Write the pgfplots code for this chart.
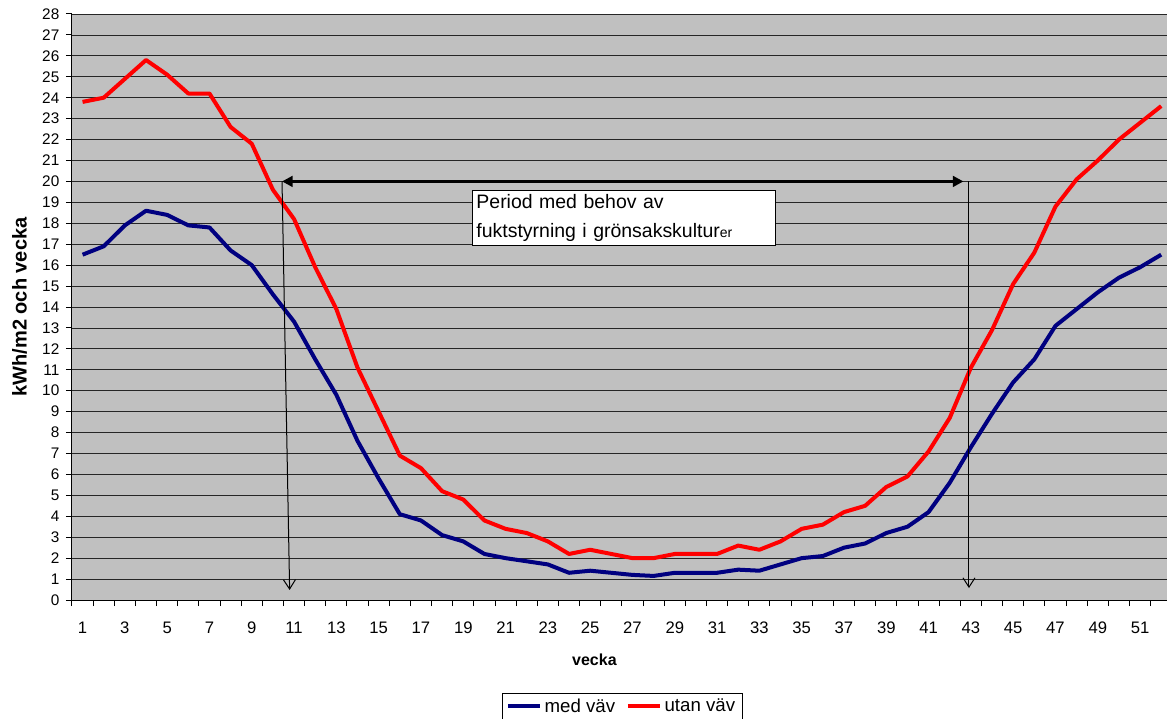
\documentclass[border=0pt]{standalone}
\usepackage{pgfplots}
\pgfplotsset{compat=1.18}
\usepackage{fontspec}
\setmainfont{Liberation Sans}
\usetikzlibrary{arrows.meta}
\definecolor{plotbg}{HTML}{C0C0C0}
\definecolor{medvav}{HTML}{000080}
\definecolor{utanvav}{HTML}{FF0000}

\begin{document}
\begin{tikzpicture}
\begin{axis}[
  scale only axis,
  width=824.85pt, height=439.5pt,
  xmin=0.5, xmax=52.5, ymin=0, ymax=28,
  axis x line*=bottom, axis y line*=left,
  axis line style={black, line width=0.75pt},
  axis background/.style={fill=plotbg},
  ymajorgrids,
  major grid style={black!85, line width=0.6pt},
  ytick={0,1,...,28},
  xtick={0.5,1.5,...,52.5}, xticklabels={},
  extra x ticks={1,3,...,51},
  extra x tick style={grid=none, major tick length=0pt},
  tick align=outside, major tick length=4.5pt,
  tick style={black, line width=0.75pt},
  /pgf/number format/assume math mode=true,
  yticklabel style={font=\fontsize{11.5}{13}\selectfont, xshift=-1.5pt},
  xticklabel style={font=\fontsize{12.5}{14}\selectfont, yshift=-13pt},
  xlabel={vecka},
  xlabel style={font=\bfseries\fontsize{12}{14}\selectfont,
    at={(axis description cs:0.475,-0.1024)}, anchor=center},
  ylabel={kWh/m2 och vecka},
  ylabel style={font=\bfseries\fontsize{15}{17}\selectfont,
    at={(axis description cs:-0.0477,0.5)}, anchor=center},
  legend style={at={(axis description cs:0.5,-0.1587)}, anchor=north,
    legend columns=2, draw=black, fill=white,
    font=\fontsize{14}{16}\selectfont,
    inner xsep=3pt, inner ysep=2pt,
    /tikz/every even column/.append style={column sep=6pt}},
  legend image code/.code={\draw[#1] (0pt,0pt) -- (24pt,0pt);},
]
\coordinate (BL) at (rel axis cs:0,0);
\coordinate (TL) at (rel axis cs:0,1);

\addplot[medvav, line width=3pt, line join=round] coordinates {
 (1,16.5) (2,16.9) (3,17.9) (4,18.6) (5,18.4) (6,17.9) (7,17.8) (8,16.7)
 (9,16.0) (10,14.6) (11,13.3) (12,11.5) (13,9.8) (14,7.6) (15,5.8) (16,4.1)
 (17,3.8) (18,3.1) (19,2.8) (20,2.2) (21,2.0) (22,1.85) (23,1.7) (24,1.3)
 (25,1.4) (26,1.3) (27,1.2) (28,1.15) (29,1.3) (30,1.3) (31,1.3) (32,1.45)
 (33,1.4) (34,1.7) (35,2.0) (36,2.1) (37,2.5) (38,2.7) (39,3.2) (40,3.5)
 (41,4.2) (42,5.6) (43,7.3) (44,8.9) (45,10.4) (46,11.5) (47,13.1) (48,13.9)
 (49,14.7) (50,15.4) (51,15.9) (52,16.5)
};
\addlegendentry{med väv}

\addplot[utanvav, line width=3pt, line join=round] coordinates {
 (1,23.8) (2,24.0) (3,24.9) (4,25.8) (5,25.1) (6,24.2) (7,24.2) (8,22.6)
 (9,21.8) (10,19.6) (11,18.2) (12,15.9) (13,13.9) (14,11.1) (15,9.0) (16,6.9)
 (17,6.3) (18,5.2) (19,4.8) (20,3.8) (21,3.4) (22,3.2) (23,2.8) (24,2.2)
 (25,2.4) (26,2.2) (27,2.0) (28,2.0) (29,2.2) (30,2.2) (31,2.2) (32,2.6)
 (33,2.4) (34,2.8) (35,3.4) (36,3.6) (37,4.2) (38,4.5) (39,5.4) (40,5.9)
 (41,7.1) (42,8.7) (43,11.1) (44,12.9) (45,15.1) (46,16.6) (47,18.8) (48,20.1)
 (49,21.0) (50,22.0) (51,22.8) (52,23.6)
};
\addlegendentry{utan väv}

% period with humidity control: weeks 11 to 43
\draw[line width=2.6pt,
  {Triangle[length=8pt,width=8pt]}-{Triangle[length=8pt,width=8pt]}]
  (axis cs:10.43,20) -- (axis cs:42.65,20);
\draw[line width=0.75pt, -{Straight Barb[length=7pt,width=9pt]}]
  (axis cs:10.43,20) -- (axis cs:10.79,0.48);
\draw[line width=0.75pt, -{Straight Barb[length=7pt,width=9pt]}]
  (axis cs:42.91,20) -- (axis cs:42.91,0.57);

\node[draw=black, fill=white, line width=0.75pt, anchor=north west,
  minimum width=227pt, minimum height=41pt, text width=221pt,
  inner xsep=3pt, inner ysep=1pt, align=left,
  font=\fontsize{14.6}{22}\selectfont]
  at (axis cs:19.41,19.59)
  {Period med behov av\\fuktstyrning i grönsakskultur{\fontsize{10.5}{12}\selectfont er}};
\end{axis}
\pgfresetboundingbox
\path[use as bounding box] ([xshift=-54pt,yshift=-88.5pt]BL) rectangle ([xshift=821.25pt,yshift=10.5pt]TL);
\end{tikzpicture}
\end{document}
